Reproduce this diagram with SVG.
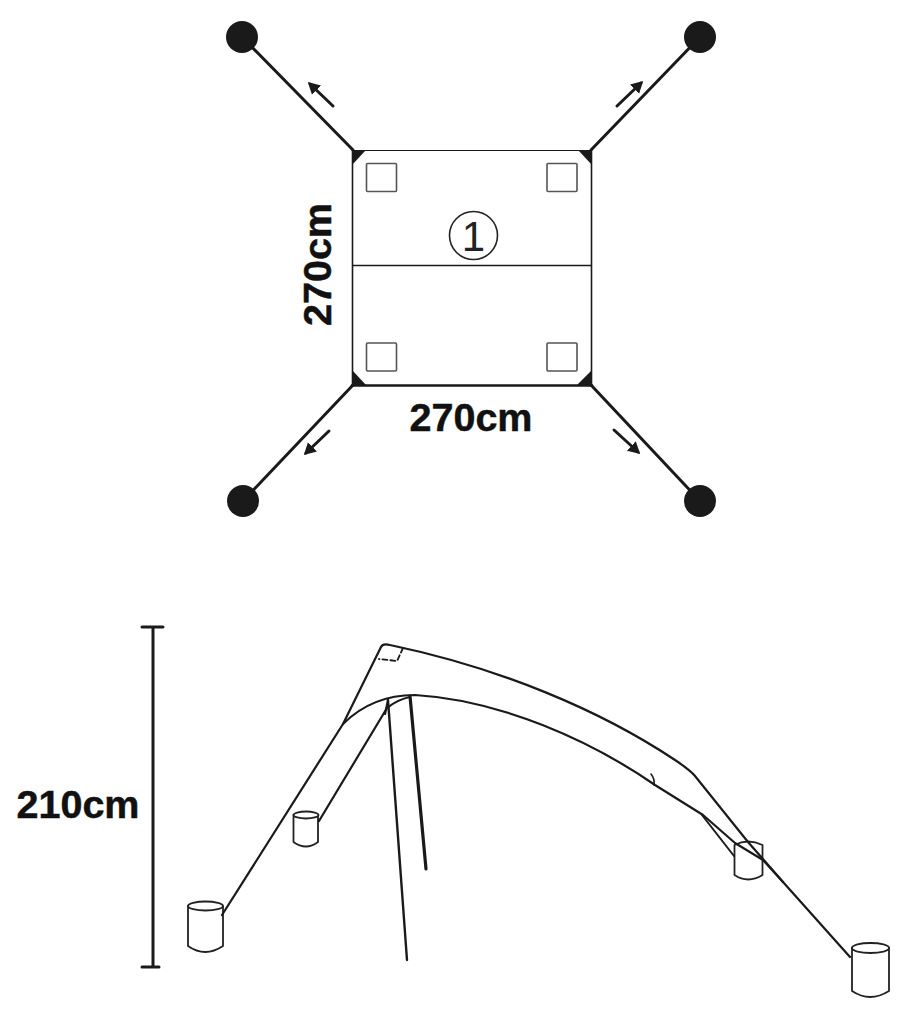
<svg xmlns="http://www.w3.org/2000/svg" width="907" height="1020" viewBox="0 0 907 1020">
<style>
.l{fill:none;stroke:#1a1a1a;stroke-linecap:round;stroke-linejoin:round}
.t{font-family:"Liberation Sans",Arial,sans-serif;font-weight:700;font-size:39.5px;fill:#111;stroke:#111;stroke-width:.5}
.b{fill:#1a1a1a}
.pad{fill:#fff;stroke:#555;stroke-width:1.6}
.can{fill:#fff;stroke:#222;stroke-width:1.8;stroke-linejoin:round}
</style>
<defs>
<marker id="ah" markerUnits="userSpaceOnUse" markerWidth="14" markerHeight="14" refX="9" refY="6.500" orient="auto"><path d="M0 0L12 6.500L0 13Z" fill="#1a1a1a"/></marker>
</defs>
<rect width="907" height="1020" fill="#fff"/>
<g id="guys" class="l" stroke-width="3">
<path d="M242 37L353 150M700 37L591 150M243 501L353 385M700 501L591 385"/>
</g>
<g id="arrows" class="l" stroke-width="3">
<path d="M333 106L310 84" marker-end="url(#ah)"/>
<path d="M617 106L641 83" marker-end="url(#ah)"/>
<path d="M329 431L306 453" marker-end="url(#ah)"/>
<path d="M614 430L638 452" marker-end="url(#ah)"/>
</g>
<g id="anchor-tl"><circle class="b" cx="242" cy="37" r="16"/></g>
<g id="anchor-tr"><circle class="b" cx="700" cy="37" r="16"/></g>
<g id="anchor-bl"><circle class="b" cx="243" cy="501" r="16"/></g>
<g id="anchor-br"><circle class="b" cx="700" cy="501" r="16"/></g>
<g id="canopy">
<path d="M353 150.500H591" class="l" stroke-width="1"/>
<path d="M352.500 150V385M591.500 150V385" class="l" stroke-width="1.600"/>
<path d="M353 265.500H591" class="l" stroke-width="1.600"/>
<path d="M352 385.500H592" class="l" stroke-width="2.600"/>
<path class="b" d="M352 150H366L352 165Z"/>
<path class="b" d="M592 150H578L592 165Z"/>
<path class="b" d="M352 385V370L366 385Z"/>
<path class="b" d="M592 385V370L577 385Z"/>
<rect class="pad" x="366.500" y="163.500" width="30" height="28" rx="1"/>
<rect class="pad" x="547" y="163.500" width="30" height="28" rx="1"/>
<rect class="pad" x="366.500" y="343" width="30" height="28" rx="1"/>
<rect class="pad" x="547" y="343" width="30" height="28" rx="1"/>
<circle cx="473.500" cy="235.500" r="24" fill="none" stroke="#222" stroke-width="1.600"/>
<text x="473.500" y="251" text-anchor="middle" font-family="'Liberation Sans',Arial,sans-serif" font-size="42" fill="#222">1</text>
</g>
<g id="dim-width"><text class="t" x="471" y="431" text-anchor="middle">270cm</text></g>
<g id="dim-depth"><text class="t" transform="translate(331 264.500) rotate(-90)" text-anchor="middle">270cm</text></g>
<g id="dim-height">
<path class="l" stroke-width="3" d="M153 627V967M142 627H163M142 967H159"/>
<text class="t" x="78" y="818" text-anchor="middle">210cm</text>
</g>
<g id="weight-1">
<path class="can" d="M188 906V946Q205 958 223 946V906Z"/>
<ellipse class="can" cx="205.500" cy="906" rx="17.500" ry="4.500"/>
</g>
<g id="weight-2">
<path class="can" d="M293.500 815V842Q306 851 318 842V815Z"/>
<ellipse class="can" cx="306" cy="815" rx="12.500" ry="3.500"/>
</g>
<g id="weight-3">
<path class="can" d="M734.500 845V875Q748 884 762.500 875V845Q748 838 734.500 845Z"/>
</g>
<g id="weight-4">
<path class="can" d="M852 948V991Q870 1003 889 991V948Z"/>
<ellipse class="can" cx="870.500" cy="948" rx="18.500" ry="5"/>
</g>
<g id="side-view" class="l">
<path stroke-width="2.200" d="M222 915L343 724L381 647Q383 643 390 645C500 668 600 710 675 760C684 766 690 770 695 776L748 842L783 882L850 957"/>
<path stroke-width="2.200" d="M343 724C362 705 385 695 415 695C500 700 590 740 655 785L703 815L735 843L763 860L783 882"/>
<path stroke-width="2.200" d="M319 821L387 708C392 704 400 699 410 697"/>
<path stroke-width="2.200" d="M388 700L385 714"/>
<path stroke-width="2.400" d="M388 700L407 960"/>
<path stroke-width="3.200" d="M410 696L426 869"/>
<path stroke-width="2" d="M702 815L734 856"/>
<path stroke-width="1.600" d="M651 774Q655 779 654 785"/>
<path stroke-width="1.800" stroke-dasharray="5 3" d="M403 648L397 661L379 659"/>
</g>
</svg>
